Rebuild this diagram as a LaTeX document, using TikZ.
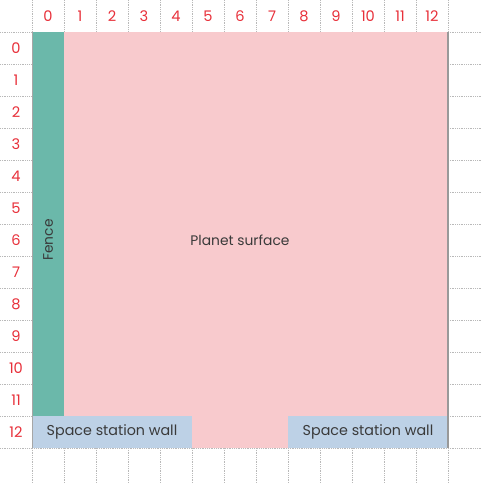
\documentclass[tikz,border=0pt]{standalone}
\usepackage{fontspec}
\setmainfont{Poppins}
\definecolor{fencegreen}{HTML}{6BB8AA}
\definecolor{planetpink}{HTML}{F8CACD}
\definecolor{wallblue}{HTML}{BDD1E6}
\definecolor{labelred}{HTML}{E8303A}
\definecolor{textgray}{HTML}{3A3A3A}
\begin{document}
\begin{tikzpicture}[x=1cm,y=1cm,every node/.style={font=\fontsize{12.3}{14}\selectfont,text=textgray},
  gridline/.style={gray!55,densely dotted,line width=0.6pt},
  numlabel/.style={text=labelred,font=\fontsize{13}{15}\selectfont},
  wallbox/.style={fill=wallblue,minimum width=5cm,minimum height=1cm,inner sep=0pt,font=\fontsize{12.7}{15}\selectfont}]
\useasboundingbox[fill=white] (0,0) rectangle (15.0625,-15.094);
% grid and labels
\foreach \i in {1,...,14} {
  \draw[gridline] (\i,0) -- (\i,-15.094);
  \draw[gridline] (0,-\i) -- (15.0625,-\i);
}
\foreach \i in {0,...,12} {
  \node[numlabel] (col\i) at (\i+1.5,-0.5) {\i};
  \node[numlabel] (row\i) at (0.5,-\i-1.5) {\i};
}
% regions
\fill[planetpink] (2,-1) rectangle (14,-14);
\fill[fencegreen] (1,-1) rectangle (2,-13);
\node[rotate=90] (fence) at (1.5,-7.5) {Fence};
\node (planet) at (7.5,-7.5) {Planet surface};
\node[wallbox] (wallA) at (3.5,-13.5) {Space station wall};
\node[wallbox] (wallB) at (11.5,-13.5) {Space station wall};
\draw[gray!80,line width=1pt] (14,-1) -- (14,-14);
\draw[gray!70,line width=0.6pt] (1,-1) -- (1,-14);
\end{tikzpicture}
\end{document}
